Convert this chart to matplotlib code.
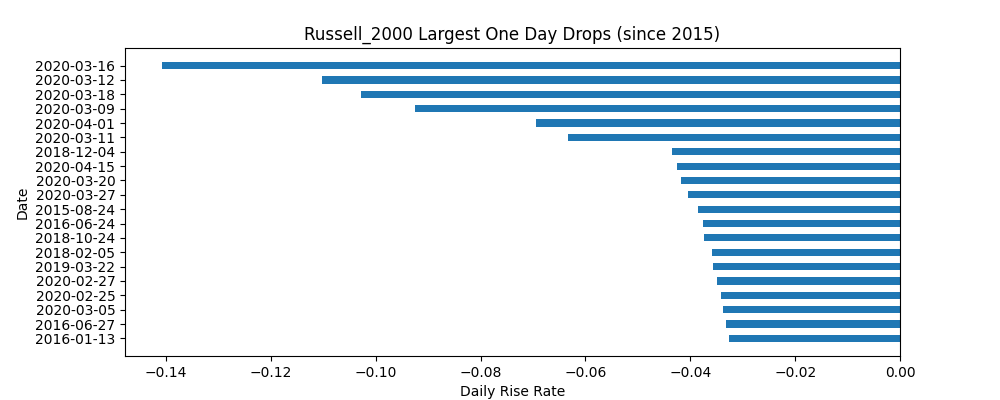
import matplotlib
matplotlib.use("Agg")
import matplotlib.pyplot as plt

dates = ["2020-03-16","2020-03-12","2020-03-18","2020-03-09","2020-04-01","2020-03-11",
         "2018-12-04","2020-04-15","2020-03-20","2020-03-27","2015-08-24","2016-06-24",
         "2018-10-24","2018-02-05","2019-03-22","2020-02-27","2020-02-25","2020-03-05",
         "2016-06-27","2016-01-13"]
rates = [-0.1408,-0.1102,-0.1028,-0.0925,-0.0694,-0.0633,-0.0435,-0.0425,-0.0418,-0.0404,
         -0.0385,-0.0376,-0.0374,-0.0359,-0.0357,-0.0349,-0.0341,-0.0338,-0.0332,-0.0326]

fig, ax = plt.subplots(figsize=(10, 4), dpi=100)
d = dates[::-1]; r = rates[::-1]
ax.barh(range(len(d)), r, height=0.5, color="#1f77b4")
ax.set_yticks(range(len(d)))
ax.set_yticklabels(d)
ax.set_xlim(right=0)
ax.set_title("Russell_2000 Largest One Day Drops (since 2015)")
ax.set_xlabel("Daily Rise Rate")
ax.set_ylabel("Date")
fig.savefig("out.png")
